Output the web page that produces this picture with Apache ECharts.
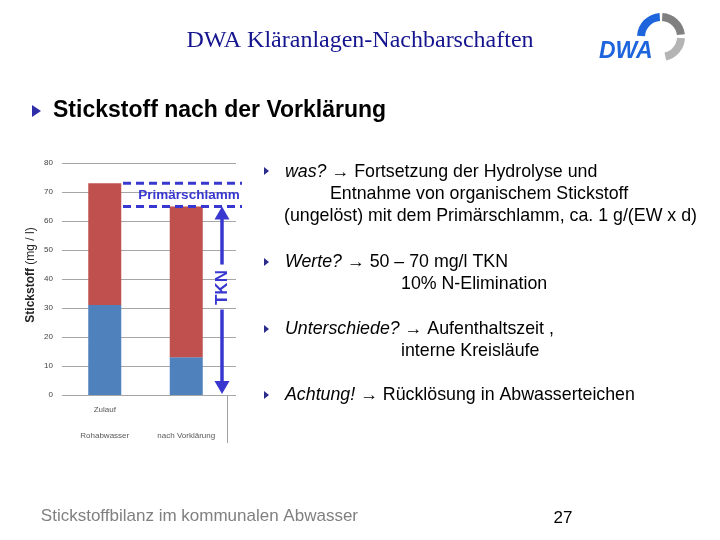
<!DOCTYPE html>
<html><head><meta charset="utf-8">
<script src="https://cdn.jsdelivr.net/npm/echarts@6/dist/echarts.min.js"></script>
<style>html,body{margin:0;padding:0;background:#fff}#c{width:720px;height:540px}</style>
</head><body><div id="c"></div>
<script>
// ---- data ----
const categories = ['Rohabwasser', 'nach Vorklärung'];
const categoryTopLabels = ['Zulauf', ''];
const dissolvedN = [31, 13];      // blue part
const particulateN = [42, 52];    // red part
const yMin = 0, yMax = 80, yInterval = 10;

const SANS = '"Liberation Sans", Arial, sans-serif';
const SERIF = '"Liberation Serif", "Times New Roman", serif';
const ANN = '#3838d0';

const chart = echarts.init(document.getElementById('c'), null, {renderer: 'canvas'});

chart.setOption({
  animation: false,
  backgroundColor: '#fff',
  grid: [
    {left: 64, width: 163, top: 163, height: 232},
    {left: 62, width: 174, top: 163, height: 232}
  ],
  xAxis: [
    {type: 'category', gridIndex: 0, data: categories,
     axisLine: {show: false}, axisTick: {show: false},
     axisLabel: {fontFamily: SANS, fontSize: 8, color: '#595959', lineHeight: 26, margin: 2,
       formatter: (v, i) => categoryTopLabels[i] + '\n' + v}},
    {type: 'category', gridIndex: 1, data: categories, show: false}
  ],
  yAxis: [
    {type: 'value', gridIndex: 0, min: yMin, max: yMax, interval: yInterval, show: false},
    {type: 'value', gridIndex: 1, min: yMin, max: yMax, interval: yInterval,
     axisLine: {show: false}, axisTick: {show: false},
     splitLine: {lineStyle: {color: '#a6a6a6', width: 1}},
     axisLabel: {fontFamily: SANS, fontSize: 8, color: '#404040', margin: 9}}
  ],
  series: [
    {name: 'gelöst', type: 'bar', stack: 'n', xAxisIndex: 0, yAxisIndex: 0, barWidth: 33,
     itemStyle: {color: '#4f81bd'}, data: dissolvedN},
    {name: 'ungelöst', type: 'bar', stack: 'n', xAxisIndex: 0, yAxisIndex: 0, barWidth: 33,
     itemStyle: {color: '#c0504d'}, data: particulateN}
  ]
});

const yPx = v => chart.convertToPixel({yAxisIndex: 0}, v);
const totals = dissolvedN.map((d, i) => d + particulateN[i]);
const yT0 = yPx(totals[0]);
const yT1 = yPx(totals[1]);
const y0 = yPx(0);

const g = [];
// header
g.push({type: 'text', left: 'center', top: 29, z: 10,
  style: {text: 'DWA Kläranlagen-Nachbarschaften', font: '24px ' + SERIF, fill: '#15158f'}});
g.push({type: 'polygon', z: 10, shape: {points: [[32, 105], [41, 111], [32, 117]]}, style: {fill: '#2e2ea8'}});
g.push({type: 'text', x: 53, y: 111, z: 10,
  style: {text: 'Stickstoff nach der Vorklärung', font: 'bold 23px ' + SANS, fill: '#000', verticalAlign: 'middle'}});

// logo
const lc = [661, 37];
g.push({type: 'sector', z: 10, shape: {cx: lc[0], cy: lc[1], r: 24, r0: 16, startAngle: Math.PI + 0.05, endAngle: 1.5 * Math.PI - 0.06, clockwise: true}, style: {fill: '#1e64dc'}});
g.push({type: 'sector', z: 10, shape: {cx: lc[0], cy: lc[1], r: 24, r0: 16, startAngle: 1.5 * Math.PI + 0.06, endAngle: 2 * Math.PI - 0.12, clockwise: true}, style: {fill: '#808080'}});
g.push({type: 'sector', z: 10, shape: {cx: lc[0], cy: lc[1], r: 24, r0: 16, startAngle: 0.05, endAngle: 0.43 * Math.PI, clockwise: true}, style: {fill: '#b4b4b4'}});
g.push({type: 'text', x: 599, y: 52, z: 11,
  style: {text: 'DWA', font: 'italic bold 23px ' + SANS, fill: '#1e64dc', verticalAlign: 'middle'}});

// bullets
const bullets = [
  {y: 171, lines: [
    {x: 285, y: 172, t: '{i|was?} → Fortsetzung der Hydrolyse und'},
    {x: 330, y: 194, t: 'Entnahme von organischem Stickstoff'},
    {x: 284, y: 216, t: '(ungelöst) mit dem Primärschlamm, ca. 1 g/(EW x d)'}]},
  {y: 262, lines: [
    {x: 285, y: 262, t: '{i|Werte?} → 50 – 70 mg/l TKN'},
    {x: 401, y: 284, t: '10% N-Elimination'}]},
  {y: 329, lines: [
    {x: 285, y: 329, t: '{i|Unterschiede?} → Aufenthaltszeit ,'},
    {x: 401, y: 351, t: 'interne Kreisläufe'}]},
  {y: 395, lines: [
    {x: 285, y: 395, t: '{i|Achtung!} → Rücklösung in Abwasserteichen'}]}
];
bullets.forEach(b => {
  g.push({type: 'polygon', z: 10, shape: {points: [[264, b.y - 4], [269, b.y], [264, b.y + 4]]}, style: {fill: '#2b2b8a'}});
  b.lines.forEach(l => g.push({type: 'text', x: l.x, y: l.y, z: 10,
    style: {text: l.t, font: '17.8px ' + SANS, fill: '#000', verticalAlign: 'middle',
      rich: {i: {fontStyle: 'italic', fontFamily: SANS, fontSize: 17.8, fill: '#000'}}}}));
});

// footer
g.push({type: 'text', x: 358, y: 516, z: 10,
  style: {text: 'Stickstoffbilanz im kommunalen Abwasser', font: '17px ' + SANS, fill: '#808080', align: 'right', verticalAlign: 'middle'}});
g.push({type: 'text', x: 563, y: 518, z: 10,
  style: {text: '27', font: '17px ' + SANS, fill: '#000', align: 'center', verticalAlign: 'middle'}});

// y axis name
g.push({type: 'text', x: 31, y: 275, rotation: Math.PI / 2, z: 10,
  style: {text: '{b|Stickstoff} {n|(mg / l)}', align: 'center', verticalAlign: 'middle',
    rich: {b: {fontFamily: SANS, fontWeight: 'bold', fontSize: 12, fill: '#262626'},
           n: {fontFamily: SANS, fontSize: 12, fill: '#262626'}}}});

// Primärschlamm dashed band
[yT0, yT1].forEach(yy => g.push({type: 'line', z: 20,
  shape: {x1: 123, y1: yy, x2: 242, y2: yy},
  style: {stroke: ANN, lineWidth: 3, lineDash: [8, 5]}}));
g.push({type: 'text', x: 189, y: (yT0 + yT1) / 2, z: 21,
  style: {text: 'Primärschlamm', font: 'bold 13.5px ' + SANS, fill: ANN, align: 'center', verticalAlign: 'middle'}});

// TKN double arrow
const ax = 222;
const mid = yT1 + 0.43 * (y0 - yT1);
g.push({type: 'polygon', z: 20, shape: {points: [[ax, yT1], [ax - 7.5, yT1 + 13], [ax + 7.5, yT1 + 13]]}, style: {fill: ANN}});
g.push({type: 'polygon', z: 20, shape: {points: [[ax, y0 - 1], [ax - 7.5, y0 - 14], [ax + 7.5, y0 - 14]]}, style: {fill: ANN}});
g.push({type: 'line', z: 20, shape: {x1: ax, y1: yT1 + 12, x2: ax, y2: mid - 23}, style: {stroke: ANN, lineWidth: 3.5}});
g.push({type: 'line', z: 20, shape: {x1: ax, y1: mid + 22, x2: ax, y2: y0 - 13}, style: {stroke: ANN, lineWidth: 3.5}});
g.push({type: 'text', x: ax, y: mid, rotation: Math.PI / 2, z: 21,
  style: {text: 'TKN', font: 'bold 17px ' + SANS, fill: ANN, align: 'center', verticalAlign: 'middle'}});

// thin grey line below chart
g.push({type: 'line', z: 5, shape: {x1: 227.5, y1: y0, x2: 227.5, y2: y0 + 48}, style: {stroke: '#a0a0a0', lineWidth: 1}});

chart.setOption({graphic: g});
</script>
</body></html>
